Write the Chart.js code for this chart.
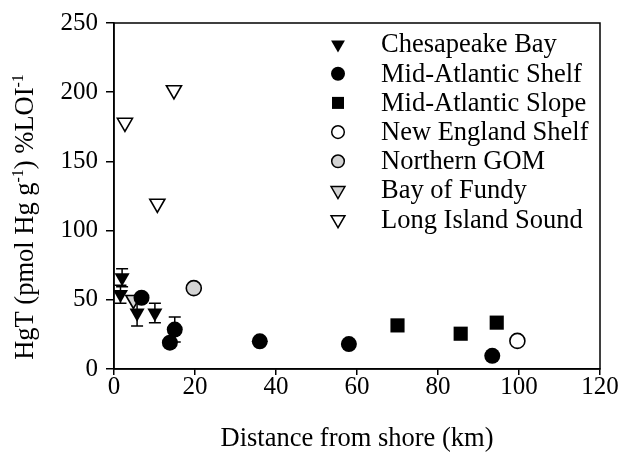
<!DOCTYPE html>
<html>
<head>
<meta charset="utf-8">
<script src="https://cdn.jsdelivr.net/npm/chart.js@4"></script>
<style>
  html, body { margin: 0; padding: 0; background: #fff; }
  #wrap { width: 622px; height: 457px; }
</style>
</head>
<body>
<div id="wrap"><canvas id="myChart"></canvas></div>
<script>
    // distance from shore (km), HgT and error for each region
    const chesDist = [2, 1.6, 5.7, 10.1];
    const chesHg = [66, 54, 40.5, 40.5];
    const chesErr = [6.5, 6.5, 9.5, 7];

    const shelfDist = [6.8, 15, 13.8, 36, 58, 93.4];
    const shelfHg = [51.5, 28.5, 19, 20, 18, 9.5];
    const shelfErr = [0, 9, 0, 0, 0, 0];

    const slopeDist = [70, 85.6, 94.5];
    const slopeHg = [31.5, 25.5, 33.5];

    const neShelfDist = [99.6];
    const neShelfHg = [20.3];

    const gomDist = [19.7];
    const gomHg = [58.4];

    const fundyDist = [4.8];
    const fundyHg = [50];

    const lisDist = [2.7, 10.7, 14.8];
    const lisHg = [178, 119.5, 201.5];

    const xTicks = [0, 20, 40, 60, 80, 100, 120];
    const yTicks = [0, 50, 100, 150, 200, 250];

    // y title pieces: [text, superscript?]
    const yTitleParts = [['HgT (pmol Hg g', false], ['-1', true], [') %LOI', false], ['-1', true]];

    const serif = "'Liberation Serif', 'Times New Roman', serif";
    const grey = '#d3d3d3';

    const pts = (xs, ys) => xs.map((v, i) => ({ x: v, y: ys[i] }));

    function series(label, xs, ys, style, fill, radius, legendRadius, errors) {
        return {
            label: label,
            data: pts(xs, ys),
            errors: errors,
            pointStyle: style,
            pointRotation: style === 'triangle' ? 180 : 0,
            pointRadius: radius,
            pointHoverRadius: radius,
            legendRadius: legendRadius,
            backgroundColor: fill,
            borderColor: '#000',
            pointBorderWidth: fill === '#000' ? 0 : 1.6
        };
    }

    // error bars, drawn under the markers
    const errorBars = {
        id: 'errorBars',
        beforeDatasetsDraw(chart) {
            const { ctx, scales: { x, y } } = chart;
            ctx.save();
            ctx.strokeStyle = '#000';
            ctx.lineWidth = 1.5;
            chart.data.datasets.forEach(ds => {
                if (!ds.errors) return;
                ds.data.forEach((p, i) => {
                    const e = ds.errors[i];
                    if (!e) return;
                    const px = x.getPixelForValue(p.x);
                    const top = y.getPixelForValue(p.y + e);
                    const bot = y.getPixelForValue(p.y - e);
                    ctx.beginPath();
                    ctx.moveTo(px, top); ctx.lineTo(px, bot);
                    ctx.moveTo(px - 6, top); ctx.lineTo(px + 6, top);
                    ctx.moveTo(px - 6, bot); ctx.lineTo(px + 6, bot);
                    ctx.stroke();
                });
            });
            ctx.restore();
        }
    };

    // box round the plot, legend inside it, y title with superscripts
    const frameAndLegend = {
        id: 'frameAndLegend',
        afterDraw(chart) {
            const { ctx, chartArea: a } = chart;
            ctx.save();
            ctx.strokeStyle = '#000';
            ctx.lineWidth = 1.5;
            ctx.strokeRect(a.left, a.top, a.right - a.left, a.bottom - a.top);

            const mx = a.left + 224;
            const tx = a.left + 267;
            ctx.font = '26.5px ' + serif;
            ctx.textBaseline = 'middle';
            ctx.textAlign = 'left';
            chart.data.datasets.forEach((ds, i) => {
                const yy = a.top + 21.5 + i * 29.2;
                ctx.fillStyle = ds.backgroundColor;
                ctx.strokeStyle = '#000';
                ctx.lineWidth = 1.5;
                Chart.helpers.drawPoint(ctx, {
                    pointStyle: ds.pointStyle,
                    radius: ds.legendRadius,
                    rotation: ds.pointRotation,
                    borderWidth: ds.pointBorderWidth ? 1.5 : 0
                }, mx, yy);
                ctx.fillStyle = '#000';
                ctx.fillText(ds.label, tx, yy + 1);
            });

            // y axis title
            const big = '26.5px ' + serif, small = '16px ' + serif;
            let total = 0;
            yTitleParts.forEach(([t, sup]) => { ctx.font = sup ? small : big; total += ctx.measureText(t).width; });
            ctx.translate(a.left - 90, (a.top + a.bottom) / 2 + 21);
            ctx.rotate(-Math.PI / 2);
            ctx.textBaseline = 'alphabetic';
            ctx.fillStyle = '#000';
            let cx = -total / 2;
            yTitleParts.forEach(([t, sup]) => {
                ctx.font = sup ? small : big;
                ctx.fillText(t, cx, sup ? -1 : 9);
                cx += ctx.measureText(t).width;
            });
            ctx.restore();
        }
    };

    const ctx = document.getElementById('myChart').getContext('2d');
    const myChart = new Chart(ctx, {
        type: 'scatter',
        data: {
            datasets: [
                series('Chesapeake Bay', chesDist, chesHg, 'triangle', '#000', 8.7, 8, chesErr),
                series('Mid-Atlantic Shelf', shelfDist, shelfHg, 'circle', '#000', 8, 7, shelfErr),
                series('Mid-Atlantic Slope', slopeDist, slopeHg, 'rect', '#000', 10, 8.5),
                series('New England Shelf', neShelfDist, neShelfHg, 'circle', '#fff', 7.5, 6.3),
                series('Northern GOM', gomDist, gomHg, 'circle', grey, 7.5, 6.3),
                series('Bay of Fundy', fundyDist, fundyHg, 'triangle', grey, 8.7, 8),
                series('Long Island Sound', lisDist, lisHg, 'triangle', '#fff', 8.7, 8)
            ]
        },
        options: {
            responsive: true,
            maintainAspectRatio: false,
            animation: false,
            layout: { padding: { top: 20, right: 22, left: 0, bottom: 0 } },
            plugins: {
                legend: { display: false },
                tooltip: { enabled: false }
            },
            scales: {
                x: {
                    type: 'linear',
                    min: xTicks[0],
                    max: xTicks[xTicks.length - 1],
                    afterBuildTicks: s => { s.ticks = xTicks.map(v => ({ value: v })); },
                    afterFit: s => { s.height = 88; },
                    ticks: { color: '#000', font: { family: serif, size: 25, lineHeight: 1 }, padding: 0, maxRotation: 0 },
                    grid: { drawOnChartArea: false, drawTicks: true, tickLength: 6, color: '#000', lineWidth: 1.5 },
                    border: { color: '#000', width: 1.5 },
                    title: {
                        display: true,
                        text: 'Distance from shore (km)',
                        color: '#000',
                        font: { family: serif, size: 26.5 },
                        padding: { top: 0, bottom: 2 }
                    }
                },
                y: {
                    type: 'linear',
                    min: yTicks[0],
                    max: yTicks[yTicks.length - 1],
                    afterBuildTicks: s => { s.ticks = yTicks.map(v => ({ value: v })); },
                    afterFit: s => { s.width = 114; },
                    ticks: { color: '#000', font: { family: serif, size: 25 }, padding: 8 },
                    grid: { drawOnChartArea: false, drawTicks: true, tickLength: 8, color: '#000', lineWidth: 1.5 },
                    border: { color: '#000', width: 1.5 }
                }
            }
        },
        plugins: [errorBars, frameAndLegend]
    });
</script>
</body>
</html>
